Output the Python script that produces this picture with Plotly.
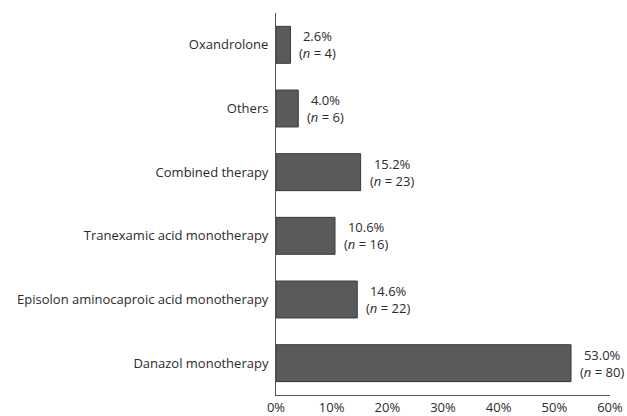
import plotly.graph_objects as go

categories = ["Danazol monotherapy",
              "Episolon aminocaproic acid monotherapy",
              "Tranexamic acid monotherapy",
              "Combined therapy",
              "Others",
              "Oxandrolone"]
percents = [53.0, 14.6, 10.6, 15.2, 4.0, 2.6]
counts = [80, 22, 16, 23, 6, 4]
tick_vals = [0, 10, 20, 30, 40, 50, 60]
tick_text = ["0%", "10%", "20%", "30%", "40%", "50%", "60%"]

FONT = "Open Sans"
fig = go.Figure()
fig.add_trace(go.Bar(
    y=categories, x=percents, orientation="h",
    width=0.58,
    marker=dict(color="#5a5a5a", line=dict(color="#3a3a3a", width=1)),
    hoverinfo="skip",
))
for c, p, n in zip(categories, percents, counts):
    fig.add_annotation(
        x=p, y=c, xref="x", yref="y",
        text=f"{p:.1f}%<br>(<i>n</i> = {n})",
        showarrow=False, xanchor="left", align="center",
        xshift=7, font=dict(family=FONT, size=13, color="#2b2b2b"),
    )

fig.update_layout(
    width=627, height=416,
    margin=dict(l=276, r=17, t=13, b=21, autoexpand=False),
    paper_bgcolor="white", plot_bgcolor="white",
    showlegend=False,
    font=dict(family=FONT, size=13, color="#2b2b2b"),
    xaxis=dict(range=[0, 60], tickvals=tick_vals, ticktext=tick_text,
               showgrid=False, zeroline=False, showline=True,
               linecolor="#555555", linewidth=1, ticks="",
               automargin=False, ticklabelstandoff=0,
               tickfont=dict(size=13, color="#2b2b2b")),
    yaxis=dict(categoryorder="array", categoryarray=categories,
               range=[-0.5, 5.5], showgrid=False, zeroline=False,
               showline=True, linecolor="#555555", linewidth=1,
               ticks="", ticklabelstandoff=4, automargin=False,
               tickfont=dict(size=13, color="#2b2b2b")),
)
fig.write_html("out.html")
